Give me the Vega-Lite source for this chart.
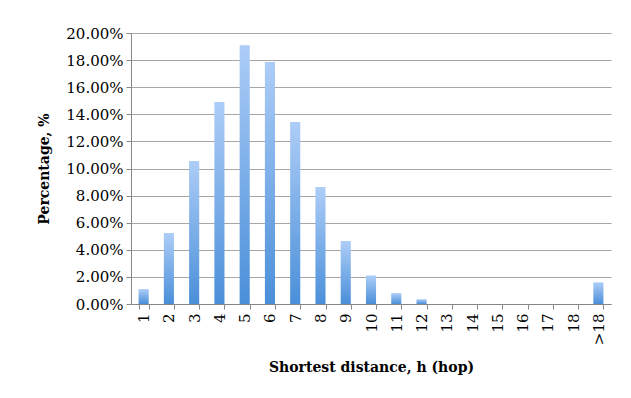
{
  "$schema": "https://vega.github.io/schema/vega-lite/v6.json",
  "width": 480,
  "height": 271,
  "autosize": {"type": "none"},
  "padding": {"left": 131, "top": 33, "right": 20, "bottom": 94},
  "background": "white",
  "config": {"view": {"stroke": null}},
  "data": {"values": [
    {"h": "1", "pct": 0.011},
    {"h": "2", "pct": 0.0524},
    {"h": "3", "pct": 0.1055},
    {"h": "4", "pct": 0.149},
    {"h": "5", "pct": 0.191},
    {"h": "6", "pct": 0.1786},
    {"h": "7", "pct": 0.1343},
    {"h": "8", "pct": 0.0863},
    {"h": "9", "pct": 0.0465},
    {"h": "10", "pct": 0.021},
    {"h": "11", "pct": 0.008},
    {"h": "12", "pct": 0.0035},
    {"h": "13", "pct": 0},
    {"h": "14", "pct": 0},
    {"h": "15", "pct": 0},
    {"h": "16", "pct": 0},
    {"h": "17", "pct": 0},
    {"h": "18", "pct": 0},
    {"h": ">18", "pct": 0.016}
  ]},
  "mark": {
    "type": "bar",
    "color": {
      "gradient": "linear", "x1": 0, "y1": 0, "x2": 0, "y2": 1,
      "stops": [{"offset": 0, "color": "#adcdf7"}, {"offset": 1, "color": "#4a8fd9"}]
    }
  },
  "encoding": {
    "x": {
      "field": "h", "type": "nominal", "sort": null,
      "scale": {"paddingInner": 0.6, "paddingOuter": 0.3},
      "axis": {
        "title": "Shortest distance, h (hop)",
        "labelAngle": -90, "labelAlign": "right", "labelBaseline": "middle",
        "labelFont": "DejaVu Serif", "labelFontSize": 15, "labelColor": "#000",
        "labelPadding": 4, "labelOverlap": false,
        "tickBand": "extent", "tickSize": 5, "tickColor": "#888", "domainColor": "#888",
        "titleFont": "DejaVu Serif", "titleFontSize": 14, "titleFontWeight": "bold", "titleColor": "#000",
        "titlePadding": 16
      }
    },
    "y": {
      "field": "pct", "type": "quantitative",
      "scale": {"domain": [0, 0.2], "nice": false},
      "axis": {
        "title": "Percentage, %",
        "format": ".2%", "values": [0, 0.02, 0.04, 0.06, 0.08, 0.1, 0.12, 0.14, 0.16, 0.18, 0.2],
        "labelFont": "DejaVu Serif", "labelFontSize": 15, "labelColor": "#000",
        "labelPadding": 3, "labelOverlap": false,
        "tickSize": 5, "tickColor": "#888", "domainColor": "#888",
        "grid": true, "gridColor": "#a6a6a6", "gridWidth": 1,
        "titleFont": "DejaVu Serif", "titleFontSize": 14, "titleFontWeight": "bold", "titleColor": "#000",
        "titlePadding": 14
      }
    }
  }
}
